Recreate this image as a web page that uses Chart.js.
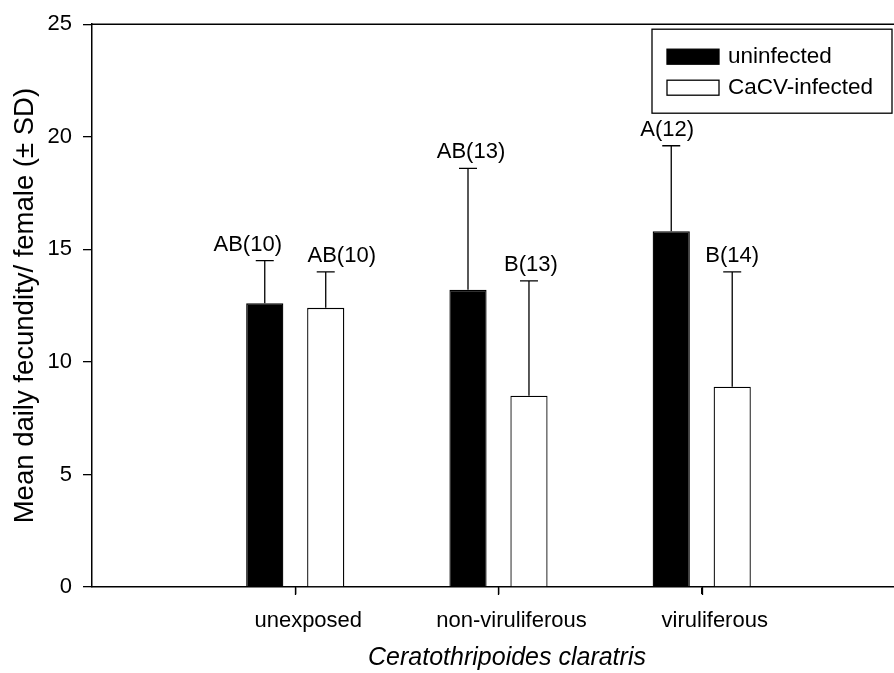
<!DOCTYPE html>
<html>
<head>
<meta charset="utf-8">
<script src="https://cdn.jsdelivr.net/npm/chart.js@4"></script>
<style>
    html, body { margin: 0; padding: 0; background: #fff; overflow: hidden; }
    #wrap { width: 894px; height: 673px; position: relative; }
</style>
</head>
<body>
<div id="wrap"><canvas id="chartFecundity"></canvas></div>
<script>
// Chart data
const categories = ['unexposed', 'non-viruliferous', 'viruliferous'];
const seriesNames = ['uninfected', 'CaCV-infected'];
const uninfectedMean = [12.6, 13.2, 15.8];
const uninfectedSD = [1.9, 5.4, 3.8];
const infectedMean = [12.4, 8.5, 8.9];
const infectedSD = [1.6, 5.1, 5.1];
const uninfectedLetters = ['AB(10)', 'AB(13)', 'A(12)'];
const infectedLetters = ['AB(10)', 'B(13)', 'B(14)'];
const yTicks = [0, 5, 10, 15, 20, 25];
const xTitle = 'Ceratothripoides claratris';
const yTitle = 'Mean daily fecundity/ female (\u00b1 SD)';

const FONT = '"Liberation Sans", Arial, sans-serif';

// Error bars + group letters
const errorBarPlugin = {
    id: 'errorBars',
    afterDatasetsDraw(chart, args, opts) {
        const ctx = chart.ctx;
        const yScale = chart.scales.y;
        ctx.save();
        ctx.strokeStyle = '#000';
        ctx.lineWidth = 1.3;
        ctx.fillStyle = '#000';
        ctx.font = '22px ' + FONT;
        ctx.textAlign = 'center';
        ctx.textBaseline = 'alphabetic';
        chart.data.datasets.forEach((ds, di) => {
            const meta = chart.getDatasetMeta(di);
            meta.data.forEach((bar, i) => {
                const top = yScale.getPixelForValue(ds.data[i].y + ds.sd[i]);
                ctx.beginPath();
                ctx.moveTo(bar.x, bar.y);
                ctx.lineTo(bar.x, top);
                ctx.moveTo(bar.x - 9, top);
                ctx.lineTo(bar.x + 9, top);
                ctx.stroke();
                const nudge = opts.nudge[di][i];
                ctx.fillText(ds.letters[i], bar.x + nudge, top - 10);
            });
        });
        ctx.restore();
    }
};

// Frame top line, x tick marks, boxed legend, italic x title
const decorPlugin = {
    id: 'decor',
    afterDraw(chart) {
        const ctx = chart.ctx;
        const area = chart.chartArea;
        const xScale = chart.scales.x;
        ctx.save();
        ctx.strokeStyle = '#000';
        ctx.lineWidth = 1.5;
        ctx.beginPath();
        ctx.moveTo(area.left, area.top);
        ctx.lineTo(area.right, area.top);
        ctx.stroke();

        // category tick marks below the x axis
        ctx.lineWidth = 1.3;
        ctx.beginPath();
        xScale.ticks.forEach((t, i) => {
            const px = Math.round(xScale.getPixelForTick(i)) + 0.5;
            ctx.moveTo(px, area.bottom);
            ctx.lineTo(px, area.bottom + 8);
        });
        ctx.stroke();

        // legend box
        const bx = area.right - 242, by = area.top + 5;
        ctx.strokeRect(bx, by, 240, 84);
        ctx.font = '22.5px ' + FONT;
        ctx.textBaseline = 'middle';
        ctx.textAlign = 'left';
        chart.data.datasets.forEach((ds, i) => {
            const sy = by + 20 + i * 31;
            ctx.fillStyle = ds.backgroundColor;
            ctx.fillRect(bx + 15, sy, 52, 15);
            ctx.strokeStyle = ds.borderColor;
            ctx.strokeRect(bx + 15, sy, 52, 15);
            ctx.fillStyle = '#000';
            ctx.fillText(ds.label, bx + 76, sy + 8);
        });

        // x axis title
        ctx.font = 'italic 25px ' + FONT;
        ctx.textAlign = 'center';
        ctx.textBaseline = 'alphabetic';
        ctx.fillText(xTitle, (area.left + area.right) / 2 + 14, area.bottom + 78);
        ctx.restore();
    }
};

const ctx = document.getElementById('chartFecundity').getContext('2d');
new Chart(ctx, {
    type: 'bar',
    data: {
        datasets: [
            {
                label: seriesNames[0],
                data: uninfectedMean.map((v, i) => ({ x: i, y: v })),
                sd: uninfectedSD,
                letters: uninfectedLetters,
                backgroundColor: '#000',
                borderColor: '#000',
                borderWidth: 1.3
            },
            {
                label: seriesNames[1],
                data: infectedMean.map((v, i) => ({ x: i, y: v })),
                sd: infectedSD,
                letters: infectedLetters,
                backgroundColor: '#fff',
                borderColor: '#000',
                borderWidth: 1.3
            }
        ]
    },
    options: {
        responsive: true,
        maintainAspectRatio: false,
        animation: false,
        categoryPercentage: 0.6,
        barPercentage: 0.61,
        layout: { padding: { top: 11.5, right: 0, left: 0, bottom: 0 } },
        plugins: {
            legend: { display: false },
            tooltip: { enabled: false },
            errorBars: { nudge: [[-17, 3, -4], [16, 2, 0]] }
        },
        scales: {
            x: {
                type: 'linear',
                offset: false,
                min: -1,
                max: 2.946,
                afterBuildTicks: (axis) => {
                    axis.ticks = categories.map((c, i) => ({ value: i }));
                },
                afterFit: (scale) => { scale.height = 86; },
                ticks: {
                    color: '#000',
                    font: { size: 22, family: FONT },
                    padding: 14,
                    labelOffset: 13,
                    maxRotation: 0,
                    callback: (v) => categories[v]
                },
                grid: { offset: false, drawOnChartArea: false, color: '#000', lineWidth: 1.3, tickLength: 7 },
                border: { display: true, color: '#000', width: 1.5 }
            },
            y: {
                min: 0,
                max: 25,
                afterBuildTicks: (axis) => {
                    axis.ticks = yTicks.map(v => ({ value: v }));
                },
                afterFit: (scale) => { scale.width = 92; },
                ticks: {
                    color: '#000',
                    font: { size: 22, family: FONT },
                    padding: 11
                },
                grid: { drawOnChartArea: false, color: '#000', lineWidth: 1.3, tickLength: 9 },
                border: { display: true, color: '#000', width: 1.5 },
                title: {
                    display: true,
                    text: yTitle,
                    color: '#000',
                    font: { size: 27.5, family: FONT },
                    padding: { top: 9, bottom: 0 }
                }
            }
        }
    },
    plugins: [errorBarPlugin, decorPlugin]
});
</script>
</body>
</html>
